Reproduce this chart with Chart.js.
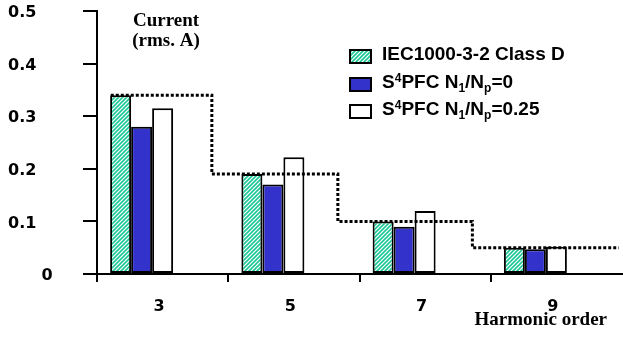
<!DOCTYPE html>
<html>
<head>
<meta charset="utf-8">
<script src="https://cdn.jsdelivr.net/npm/chart.js@4.4.1/dist/chart.umd.min.js"></script>
<style>
  html, body { margin: 0; padding: 0; background: #fff; }
  #wrap { position: relative; width: 623px; height: 341px; }
  #legend { position: absolute; left: 349px; top: 44px; font: bold 19px "Liberation Sans", Arial, sans-serif; color: #000; }
  #legend .row { position: relative; height: 27.7px; line-height: 19px; white-space: nowrap; }
  #legend canvas { position: absolute; left: 0; top: 5px; }
  #legend .tx { position: absolute; left: 33px; top: 0; }
  #legend .sup { font-size: 12px; position: relative; top: -6px; line-height: 0; }
  #legend .sub { font-size: 12px; position: relative; top: 4px; line-height: 0; }
</style>
</head>
<body>
<div id="wrap">
  <canvas id="c" width="623" height="341"></canvas>
  <div id="legend"></div>
</div>
<script>
// Harmonic orders on the x axis
const categories = ['3', '5', '7', '9'];
// Harmonic current, rms A
const classD   = [0.34, 0.19, 0.10, 0.05];
const nRatio0  = [0.28, 0.17, 0.09, 0.047];
const nRatio25 = [0.315, 0.222, 0.12, 0.052];
// Series names (legend markup) and plain labels
const seriesMarkup = [
  'IEC1000-3-2 Class D',
  'S<span class="sup">4</span>PFC N<span class="sub">1</span>/N<span class="sub">p</span>=0',
  'S<span class="sup">4</span>PFC N<span class="sub">1</span>/N<span class="sub">p</span>=0.25'
];
const seriesLabels = ['IEC1000-3-2 Class D', 'S4PFC N1/Np=0', 'S4PFC N1/Np=0.25'];
// Axis ranges
const xMin = 2, xMax = 10, xStep = 2;
const yMax = 0.5, yStep = 0.1;
// Class D limit envelope: harmonic-order positions where each level starts / ends
const limitEdges = [2.21, 3.75, 5.67, 7.72, 9.95];

const TEAL = '#1dc896';
const BLUE = '#3333cc';

function hatchPattern(ctx) {
  const s = 4;
  const tile = document.createElement('canvas');
  tile.width = tile.height = s;
  const g = tile.getContext('2d');
  g.fillStyle = '#fff';
  g.fillRect(0, 0, s, s);
  g.strokeStyle = TEAL;
  g.lineWidth = 1.6;
  g.beginPath();
  g.moveTo(-1, s + 1); g.lineTo(s + 1, -1);
  g.moveTo(-1, 1); g.lineTo(1, -1);
  g.moveTo(s - 1, s + 1); g.lineTo(s + 1, s - 1);
  g.stroke();
  return ctx.createPattern(tile, 'repeat');
}

const canvas = document.getElementById('c');
const ctx = canvas.getContext('2d');

const limitPoints = limitEdges.map((x, i) => ({ x, y: classD[Math.min(i, classD.length - 1)] }));

const barStyle = { borderColor: '#000', borderWidth: 2, borderSkipped: false };

const datasets = [
  {
    type: 'line', label: 'Class D limit', order: -1,
    data: limitPoints, stepped: 'before',
    borderColor: '#000', borderWidth: 3, borderDash: [3, 2], borderCapStyle: 'butt',
    pointRadius: 0, fill: false
  },
  Object.assign({ label: seriesLabels[0], data: classD, backgroundColor: hatchPattern(ctx), hatched: true, markup: seriesMarkup[0] }, barStyle),
  Object.assign({ label: seriesLabels[1], data: nRatio0, backgroundColor: BLUE, markup: seriesMarkup[1] }, barStyle),
  Object.assign({ label: seriesLabels[2], data: nRatio25, backgroundColor: '#fff', markup: seriesMarkup[2] }, barStyle),
  // empty slots that keep each bar group left of its category centre
  { label: '', data: categories.map(() => null), backgroundColor: 'rgba(0,0,0,0)' },
  { label: '', data: categories.map(() => null), backgroundColor: 'rgba(0,0,0,0)' }
];

const htmlLegend = {
  id: 'htmlLegend',
  afterUpdate(chart) {
    const box = document.getElementById('legend');
    box.innerHTML = '';
    chart.data.datasets.forEach(ds => {
      if (!ds.markup) return;
      const row = document.createElement('div');
      row.className = 'row';
      const sw = document.createElement('canvas');
      sw.width = 23; sw.height = 15;
      const g = sw.getContext('2d');
      g.fillStyle = ds.hatched ? hatchPattern(g) : ds.backgroundColor;
      g.fillRect(0, 0, 23, 15);
      g.strokeStyle = '#000';
      g.lineWidth = 2;
      g.strokeRect(1, 1, 21, 13);
      const tx = document.createElement('span');
      tx.className = 'tx';
      tx.innerHTML = ds.markup;
      row.appendChild(sw);
      row.appendChild(tx);
      box.appendChild(row);
    });
  }
};

const annotations = {
  id: 'annotations',
  afterDraw(chart) {
    const c = chart.ctx;
    c.save();
    c.fillStyle = '#000';
    c.font = 'bold 19px "Liberation Serif", "Times New Roman", serif';
    c.textAlign = 'center';
    c.fillText('Current', 166, 26);
    c.fillText('(rms. A)', 166, 45.5);
    c.textAlign = 'right';
    c.fillText('Harmonic order', 607, 325);
    c.restore();
  }
};

const yTickFont = { family: '"DejaVu Sans", sans-serif', size: 16, weight: 'bold' };
// tall line box drops the category numbers well below the axis
const xTickFont = { family: '"DejaVu Sans", sans-serif', size: 16, weight: 'bold', lineHeight: 3.1 };

new Chart(ctx, {
  type: 'bar',
  data: { labels: categories, datasets },
  options: {
    responsive: false,
    animation: false,
    layout: { padding: { top: 11, right: 1, left: 8, bottom: 0 } },
    datasets: { bar: { categoryPercentage: 0.8, barPercentage: 1.0 } },
    plugins: { legend: { display: false }, tooltip: { enabled: false } },
    scales: {
      x: {
        type: 'linear',
        min: xMin, max: xMax,
        offset: false,
        grid: {
          offset: false, drawOnChartArea: false, drawTicks: true, tickLength: 8, lineWidth: 2,
          color: c => (c.tick && c.tick.value >= xMax ? 'rgba(0,0,0,0)' : '#000')
        },
        border: { display: true, color: '#000', width: 2 },
        ticks: {
          stepSize: xStep, font: xTickFont, color: '#000', padding: 0, labelOffset: 62, maxRotation: 0,
          callback: v => categories[(v - xMin) / xStep] || ''
        },
        afterFit: s => { s.height = 67; }
      },
      y: {
        min: 0, max: yMax,
        grid: { drawOnChartArea: false, drawTicks: true, tickLength: 14, lineWidth: 2, color: '#000' },
        border: { display: true, color: '#000', width: 2 },
        ticks: {
          stepSize: yStep, font: yTickFont, color: '#000', padding: 0, labelOffset: 2, crossAlign: 'far',
          callback: v => (v === 0 ? '      0' : v.toFixed(1))
        },
        afterFit: s => { s.width = 89; }
      }
    }
  },
  plugins: [htmlLegend, annotations]
});
</script>
</body>
</html>
